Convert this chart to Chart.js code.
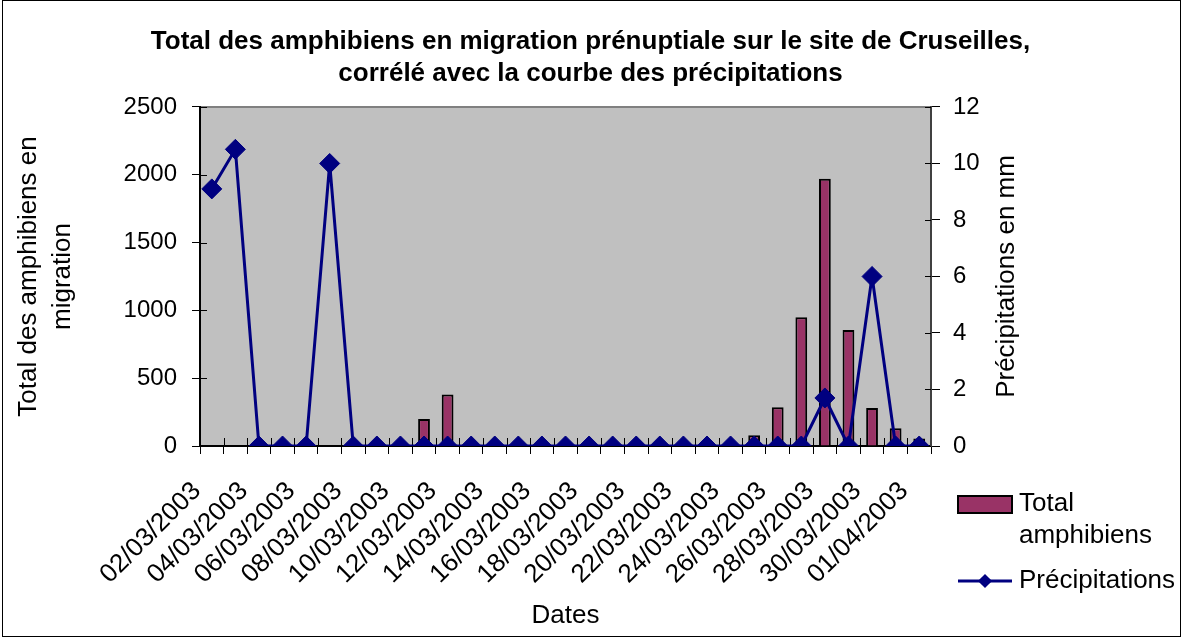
<!DOCTYPE html>
<html>
<head>
<meta charset="utf-8">
<script src="https://cdn.jsdelivr.net/npm/chart.js@4"></script>
<style>
  html, body { margin: 0; padding: 0; background: #fff; }
  canvas { display: block; }
</style>
</head>
<body>
<canvas id="chart" width="1181" height="637"></canvas>
<script>
// 31 days, 02/03/2003 -> 01/04/2003
const dates = [
  '02/03/2003', '03/03/2003', '04/03/2003', '05/03/2003', '06/03/2003', '07/03/2003',
  '08/03/2003', '09/03/2003', '10/03/2003', '11/03/2003', '12/03/2003', '13/03/2003',
  '14/03/2003', '15/03/2003', '16/03/2003', '17/03/2003', '18/03/2003', '19/03/2003',
  '20/03/2003', '21/03/2003', '22/03/2003', '23/03/2003', '24/03/2003', '25/03/2003',
  '26/03/2003', '27/03/2003', '28/03/2003', '29/03/2003', '30/03/2003', '31/03/2003',
  '01/04/2003'
];
const totalAmphibiens = [
  0, 0, 0, 0, 0, 0, 0, 0, 0, 200, 380, 0, 0, 0, 0, 0, 0, 0, 0, 0, 0, 0, 0,
  80, 285, 950, 1970, 855, 280, 130, 55
];
const precipitations = [
  9.1, 10.5, 0, 0, 0, 10.0, 0, 0, 0, 0, 0, 0, 0, 0, 0, 0, 0, 0, 0, 0, 0, 0, 0,
  0, 0, 0, 1.7, 0, 6.0, 0, 0
];

const titleLines = [
  'Total des amphibiens en migration prénuptiale sur le site de Cruseilles,',
  'corrélé avec la courbe des précipitations'
];
const leftAxisTitle = ['Total des amphibiens en', 'migration'];
const rightAxisTitle = 'Précipitations en mm';

const FONT = '"Liberation Sans", Arial, Helvetica, sans-serif';

// grey plot area + outer frame
const plotBackground = {
  id: 'plotBackground',
  beforeDraw(chart) {
    const {ctx, chartArea: a, width, height} = chart;
    ctx.save();
    ctx.fillStyle = '#fff';
    ctx.fillRect(0, 0, width, height);
    ctx.fillStyle = '#c0c0c0';
    ctx.fillRect(a.left, a.top, a.width, a.height);
    ctx.strokeStyle = '#808080';
    ctx.lineWidth = 2;
    ctx.beginPath();
    ctx.moveTo(a.left, a.top);
    ctx.lineTo(a.right, a.top);
    ctx.stroke();
    ctx.strokeStyle = '#000';
    ctx.lineWidth = 1;
    ctx.strokeRect(2.5, 0.5, width - 3, height - 1);
    ctx.restore();
  }
};

// tick marks that cross the axes (inner half)
const innerTicks = {
  id: 'innerTicks',
  beforeDatasetsDraw(chart) {
    const {ctx, chartArea: a, scales} = chart;
    ctx.save();
    ctx.strokeStyle = '#000';
    ctx.lineWidth = 1;
    ctx.beginPath();
    scales.y.ticks.forEach(t => {
      const py = Math.round(scales.y.getPixelForValue(t.value)) + 0.5;
      ctx.moveTo(a.left, py); ctx.lineTo(a.left + 7, py);
    });
    scales.y1.ticks.forEach(t => {
      const py = Math.round(scales.y1.getPixelForValue(t.value)) + 0.5;
      ctx.moveTo(a.right - 6, py); ctx.lineTo(a.right, py);
    });
    const n = scales.x.ticks.length;
    const w = a.width / n;
    for (let k = 1; k < n; k++) {
      const px = Math.round(a.left + k * w) + 0.5;
      ctx.moveTo(px, a.bottom - 8); ctx.lineTo(px, a.bottom);
    }
    ctx.stroke();
    ctx.restore();
  }
};

// right axis title reads bottom-to-top, plus the legend in the bottom right corner
const sideLegend = {
  id: 'sideLegend',
  afterDraw(chart) {
    const {ctx, chartArea: a} = chart;
    const [bars, line] = chart.data.datasets;
    ctx.save();
    ctx.fillStyle = '#000';
    ctx.font = '26px ' + FONT;
    ctx.textAlign = 'center';
    ctx.textBaseline = 'middle';
    ctx.translate(a.right + 76, (a.top + a.bottom) / 2);
    ctx.rotate(-Math.PI / 2);
    ctx.fillText(rightAxisTitle, 0, 0);
    ctx.restore();

    const x0 = a.right + 27, x1 = x0 + 54, tx = x1 + 7;
    const maxW = chart.width - tx;
    ctx.save();
    ctx.font = '26px ' + FONT;
    ctx.textAlign = 'left';
    ctx.textBaseline = 'middle';

    // bar entry
    let y = a.bottom + 50;
    ctx.fillStyle = bars.backgroundColor;
    ctx.fillRect(x0, y, 54, 17);
    ctx.strokeStyle = bars.borderColor;
    ctx.lineWidth = 2;
    ctx.strokeRect(x0, y, 54, 17);
    const lines = [];
    let cur = '';
    bars.label.split(' ').forEach(word => {
      const test = cur ? cur + ' ' + word : word;
      if (cur && ctx.measureText(test).width > maxW) { lines.push(cur); cur = word; }
      else cur = test;
    });
    lines.push(cur);
    ctx.fillStyle = '#000';
    lines.forEach((l, i) => ctx.fillText(l, tx, y + 8 + i * 32));

    // line entry
    y = a.bottom + 135;
    ctx.strokeStyle = line.borderColor;
    ctx.lineWidth = line.borderWidth;
    ctx.beginPath();
    ctx.moveTo(x0, y); ctx.lineTo(x1, y);
    ctx.stroke();
    const cx = (x0 + x1) / 2, r = line.pointRadius * Math.SQRT1_2;
    ctx.fillStyle = line.backgroundColor;
    ctx.beginPath();
    ctx.moveTo(cx - r, y); ctx.lineTo(cx, y - r); ctx.lineTo(cx + r, y); ctx.lineTo(cx, y + r);
    ctx.closePath();
    ctx.fill();
    ctx.fillStyle = '#000';
    ctx.fillText(line.label, tx, y);
    ctx.restore();
  }
};

new Chart(document.getElementById('chart'), {
  type: 'bar',
  data: {
    labels: dates,
    datasets: [
      {
        type: 'bar',
        label: 'Total amphibiens',
        data: totalAmphibiens,
        yAxisID: 'y',
        backgroundColor: '#993366',
        borderColor: '#000',
        borderWidth: 2,
        categoryPercentage: 1,
        barPercentage: 0.5,
        order: 2
      },
      {
        type: 'line',
        label: 'Précipitations',
        data: precipitations,
        yAxisID: 'y1',
        borderColor: '#000080',
        backgroundColor: '#000080',
        borderWidth: 3,
        pointStyle: 'rectRot',
        pointRadius: 10,
        pointBorderWidth: 1,
        tension: 0,
        order: 1
      }
    ]
  },
  options: {
    responsive: false,
    animation: false,
    devicePixelRatio: 1,
    layout: { padding: 0 },
    plugins: {
      legend: { display: false },
      tooltip: { enabled: false },
      title: {
        display: true,
        text: titleLines,
        color: '#000',
        font: { family: FONT, size: 26, weight: 'bold', lineHeight: 1.23 },
        padding: { top: 26, bottom: 17 }
      }
    },
    scales: {
      x: {
        offset: true,
        grid: { drawOnChartArea: false, tickLength: 8, color: '#000', offset: true },
        border: { color: '#000', width: 2 },
        ticks: {
          autoSkip: false,
          minRotation: 45,
          maxRotation: 45,
          padding: 22,
          labelOffset: -15,
          color: '#000',
          font: { family: FONT, size: 26 },
          callback(value, index) {
            return index % 2 === 0 ? this.getLabelForValue(value) : '';
          }
        },
        title: {
          display: true,
          text: 'Dates',
          color: '#000',
          font: { family: FONT, size: 26 },
          padding: { top: 0, bottom: 6 }
        },
        afterFit(scale) { scale.height = 191; }
      },
      y: {
        position: 'left',
        min: 0,
        max: 2500,
        grid: { drawOnChartArea: false, tickLength: 8, color: '#000' },
        border: { color: '#000', width: 2 },
        ticks: {
          stepSize: 500,
          padding: 15,
          color: '#000',
          font: { family: FONT, size: 24 },
          callback: value => String(value)
        },
        title: {
          display: true,
          text: leftAxisTitle,
          color: '#000',
          font: { family: FONT, size: 26, lineHeight: 1.3 },
          padding: { top: 12, bottom: 0 }
        },
        afterFit(scale) { scale.width = 200; }
      },
      y1: {
        position: 'right',
        min: 0,
        max: 12,
        grid: { drawOnChartArea: false, tickLength: 9, color: '#000' },
        border: { color: '#404040', width: 2 },
        ticks: { stepSize: 2, padding: 13, color: '#000', font: { family: FONT, size: 24 } },
        title: { display: false },
        afterFit(scale) { scale.width = 250; }
      }
    }
  },
  plugins: [plotBackground, innerTicks, sideLegend]
});
</script>
</body>
</html>
